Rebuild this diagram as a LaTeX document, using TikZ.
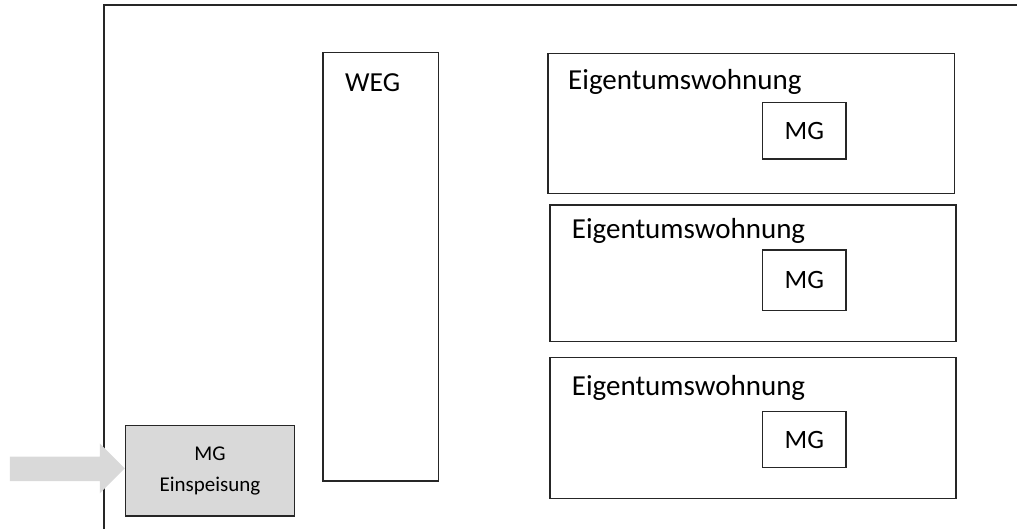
\documentclass[tikz,border=0pt]{standalone}
\usepackage{fontspec}
\setmainfont{Carlito}
\usetikzlibrary{calc,positioning}
\definecolor{frame}{HTML}{262626}
\definecolor{feedgray}{HTML}{D9D9D9}
\definecolor{arrowgray}{HTML}{D9D9D9}
\tikzset{
  box/.style={draw=frame, line width=1.1pt, rectangle, inner sep=0pt, fill=white},
  bigtext/.style={font=\fontsize{29}{34}\selectfont, anchor=base west, inner sep=0pt},
  wegtext/.style={font=\fontsize{27.5}{32}\selectfont, anchor=base west, inner sep=0pt},
  mgtext/.style={font=\fontsize{26.5}{30}\selectfont, inner sep=0pt},
  smalltext/.style={font=\fontsize{21}{30.5}\selectfont, align=center, inner sep=0pt},
}
\begin{document}
\begin{tikzpicture}[x=1pt,y=-1pt]
\useasboundingbox (0,0) rectangle (1017,529);
% outer frame (top and left sides only)
\coordinate (ftl) at (104,5);
\coordinate (ftr) at (1017,5);
\coordinate (fbl) at (104,529);
\draw[frame, line width=1.1pt] (ftr) -- (ftl) -- (fbl);

% WEG column
\node[box, minimum width=115.5pt, minimum height=428.5pt] (weg) at (380.75,266.75) {};
\node[wegtext] (wegl) at (345,91.5) {WEG};

% Eigentumswohnungen
\node[box, minimum width=406.3pt, minimum height=140pt] (e1) at (751.15,123.3) {};
\node[bigtext] (e1l) at (568,90) {Eigentumswohnung};
\node[box, minimum width=83.3pt, minimum height=56.7pt] (m1) at (804.35,130.65) {};
\node[mgtext] (m1l) at (m1) {MG};

\node[box, minimum width=406pt, minimum height=136.7pt] (e2) at (753,273.35) {};
\node[bigtext] (e2l) at (571.7,238.5) {Eigentumswohnung};
\node[box, minimum width=83.3pt, minimum height=60.7pt] (m2) at (804.35,280.35) {};
\node[mgtext] (m2l) at (m2) {MG};

\node[box, minimum width=406pt, minimum height=141pt] (e3) at (753,427.8) {};
\node[bigtext] (e3l) at (571.7,395) {Eigentumswohnung};
\node[box, minimum width=83.3pt, minimum height=56pt] (m3) at (804.35,439.7) {};
\node[mgtext] (m3l) at (m3) {MG};

% feed-in
\node[box, fill=feedgray, minimum width=169.4pt, minimum height=90.3pt] (feed) at (210,470.85) {};
\node[smalltext] (feedl) at (feed) {MG\\Einspeisung};

% arrow
\coordinate (tip) at ($(feed.west)+(0,-2.5)$);
\fill[arrowgray] (tip) -- ++(-25,-25) -- ++(0,13.3) -- ++(-90,0) -- ++(0,24.4) -- ++(90,0) -- ++(0,12.3) -- cycle;
\end{tikzpicture}
\end{document}
